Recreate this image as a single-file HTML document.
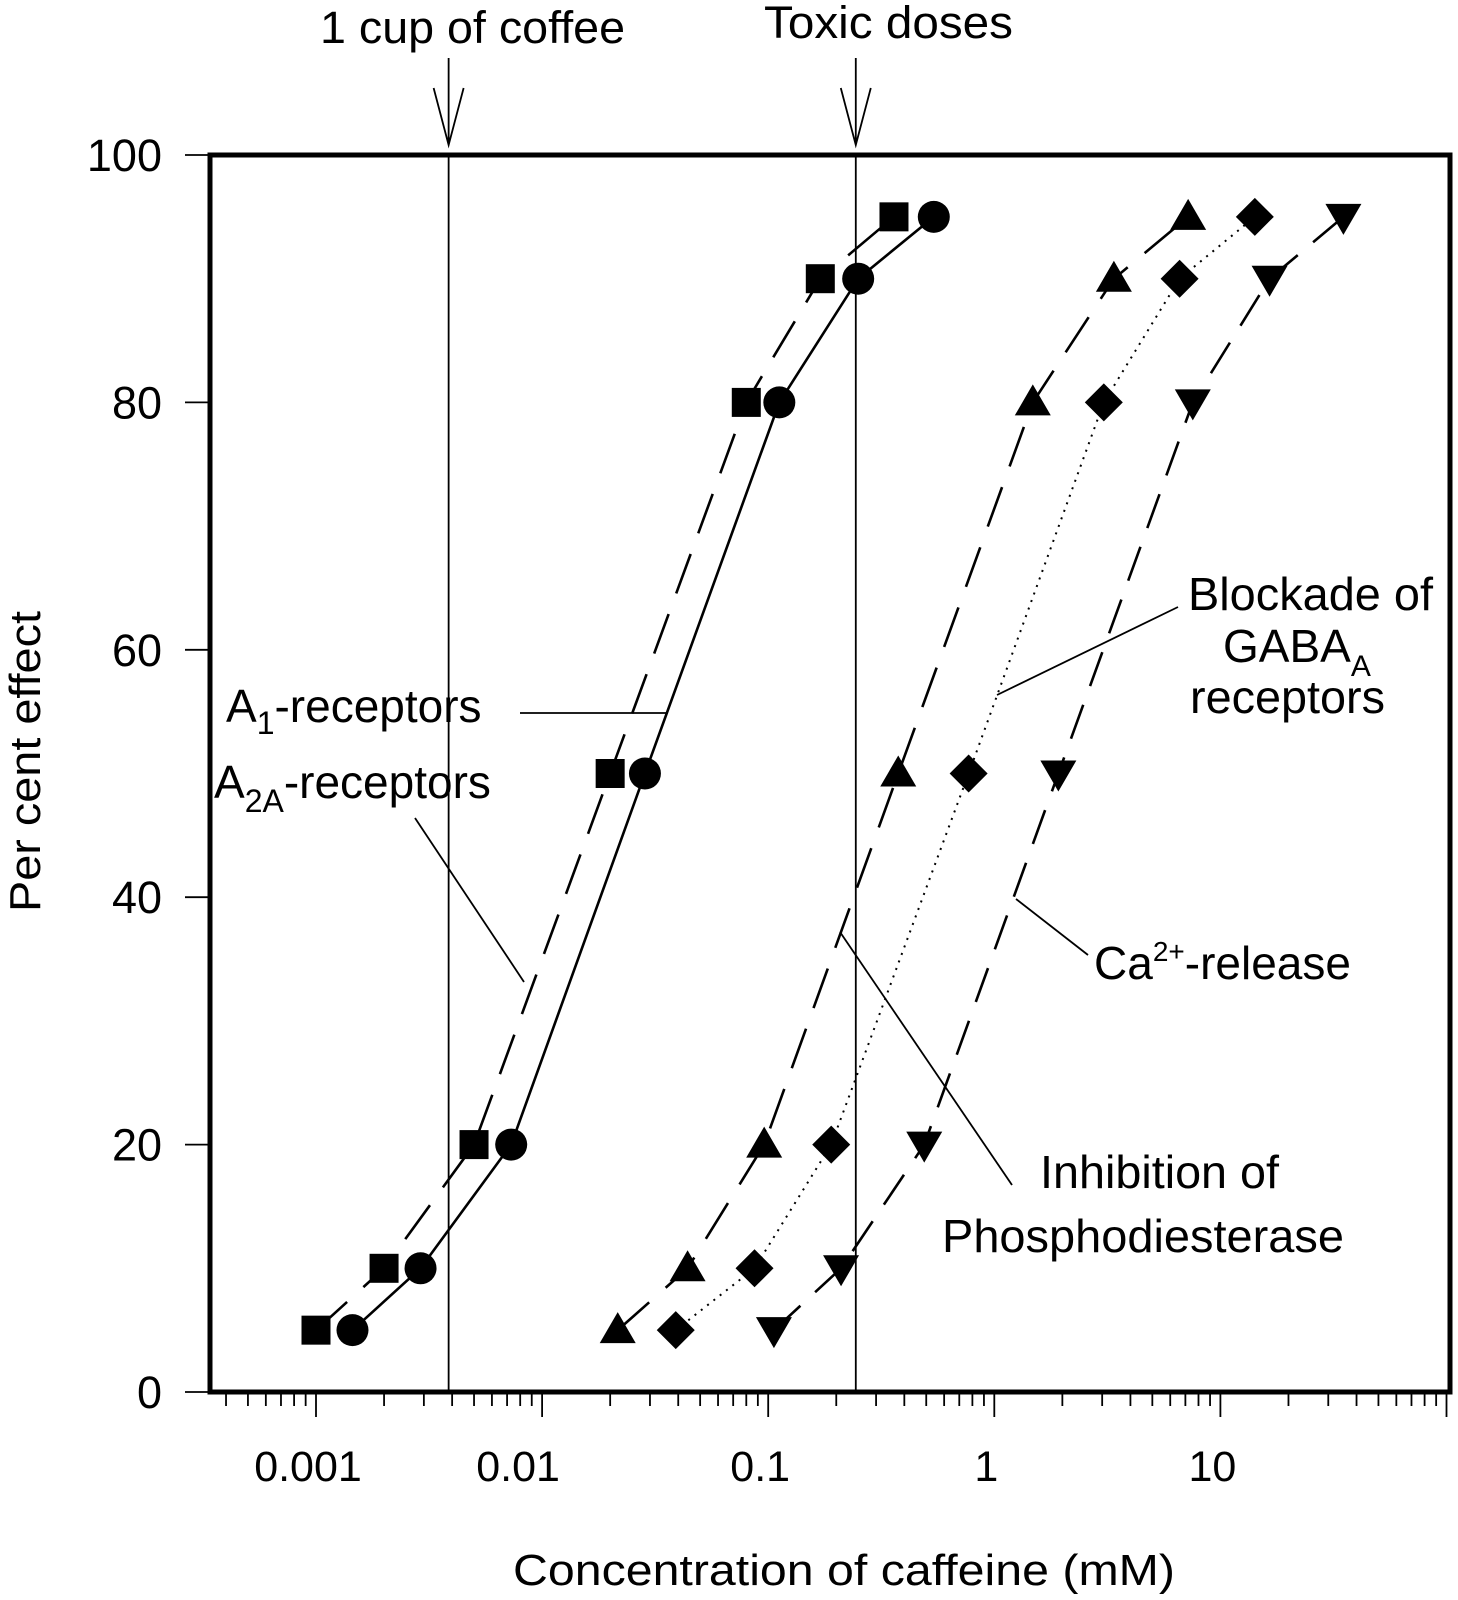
<!DOCTYPE html>
<html><head><meta charset="utf-8"><style>
html,body{margin:0;padding:0;background:#fff}
svg text{font-family:"Liberation Sans",sans-serif;fill:#000}
</style></head><body>
<svg id="chart" width="1458" height="1600" viewBox="0 0 1458 1600" xmlns="http://www.w3.org/2000/svg" style="position:absolute;left:0;top:0">
<g id="layer"></g>
</svg>
<script>
const yTicks=[0,20,40,60,80,100];
const xTickVals=[0.001,0.01,0.1,1,10];
const xTickLabels=["0.001","0.01","0.1","1","10"];
const pctLevels=[5,10,20,50,80,90,95];
const a1Conc=[0.001,0.002,0.005,0.02,0.08,0.17,0.36];
const a2aConc=[0.00145,0.0029,0.0073,0.0285,0.112,0.25,0.54];
const pdeConc=[0.0216,0.044,0.096,0.376,1.48,3.38,7.2];
const gabaConc=[0.039,0.087,0.19,0.77,3.05,6.6,14.2];
const caConc=[0.106,0.21,0.49,1.92,7.55,16.5,35];
const refLines=[0.00386,0.244];
const refLabels=["1 cup of coffee","Toxic doses"];

const L=210,R=1450,T=155,B=1392;
const DEC=226.1;
function sx(v){return 316+(Math.log10(v)+3)*DEC;}
function sy(v){return B-(v/100)*(B-T);}
const NS="http://www.w3.org/2000/svg";
const g=document.getElementById('layer');
function mk(tag,attrs,parent){const e=document.createElementNS(NS,tag);for(const k in attrs)e.setAttribute(k,attrs[k]);(parent||g).appendChild(e);return e;}

const refText=[{x:320,y:43,w:305},{x:764,y:38,w:249}];
refLines.forEach((v,i)=>{
  const x=sx(v);
  let l=mk('line',{x1:x,y1:T,x2:x,y2:B,stroke:'#000','stroke-width':1.8});
  
  
  let a=mk('path',{d:`M${x},58 L${x},145 M${x-15},88 L${x},145 L${x+15},88`,fill:'none',stroke:'#000','stroke-width':1.8});
  
  
  let t=mk('text',{x:refText[i].x,y:refText[i].y,'font-size':45,textLength:refText[i].w,lengthAdjust:'spacingAndGlyphs'});
  t.textContent=refLabels[i];
  
  
});

const series=[
 {name:'a1-receptors',conc:a1Conc,dash:'42 22',marker:'square'},
 {name:'a2a-receptors',conc:a2aConc,dash:'',marker:'circle'},
 {name:'phosphodiesterase',conc:pdeConc,dash:'42 22',marker:'triangle'},
 {name:'gaba-a-blockade',conc:gabaConc,dash:'2 6',marker:'diamond'},
 {name:'ca-release',conc:caConc,dash:'36 20',marker:'down-triangle'}
];
series.forEach(s=>{
  const pts=s.conc.map((c,i)=>[sx(c),sy(pctLevels[i])]);
  let p=mk('path',{d:'M'+pts.map(p=>p.join(',')).join(' L'),fill:'none',stroke:'#000','stroke-width':s.dash.startsWith('2 ')?2:2.6,'stroke-dasharray':s.dash});
  
  
  pts.forEach(([x,y])=>{
    let m;
    if(s.marker=='square')m=mk('rect',{x:x-14.5,y:y-14.5,width:29,height:29,fill:'#000'});
    else if(s.marker=='circle')m=mk('circle',{cx:x,cy:y,r:16,fill:'#000'});
    else if(s.marker=='triangle')m=mk('polygon',{points:`${x},${y-18} ${x-18},${y+13} ${x+18},${y+13}`,fill:'#000'});
    else if(s.marker=='down-triangle')m=mk('polygon',{points:`${x},${y+18} ${x-18},${y-13} ${x+18},${y-13}`,fill:'#000'});
    else m=mk('polygon',{points:`${x},${y-19} ${x+19},${y} ${x},${y+19} ${x-19},${y}`,fill:'#000'});
    
    
  });
});

let f=mk('rect',{x:L,y:T,width:R-L,height:B-T,fill:'none',stroke:'#000','stroke-width':5});



yTicks.forEach(v=>{
  const y=sy(v);
  let l=mk('line',{x1:185,y1:y,x2:L,y2:y,stroke:'#000','stroke-width':1.8});
  
  
  let t=mk('text',{x:162,y:y+16,'font-size':45,'text-anchor':'end'});
  t.textContent=String(v);
  
  
});
for(let e=-4;e<=2;e++){
  for(let k=1;k<=9;k++){
    const v=k*Math.pow(10,e);
    const x=sx(v);
    if(x<L+5||x>R-2)continue;
    let l=mk('line',{x1:x,y1:B,x2:x,y2:k==1?1417:1406,stroke:'#000','stroke-width':1.8});
    
    
  }
}
xTickVals.forEach((v,i)=>{
  let t=mk('text',{x:sx(v)-(i==1?24:8),y:1481,'font-size':43,'text-anchor':'middle'});
  t.textContent=xTickLabels[i];
  
  
});
</script>
<svg style="position:absolute;left:0;top:0" width="1458" height="1600">
<text x="513" y="1585" font-size="44" textLength="662" lengthAdjust="spacingAndGlyphs">Concentration of caffeine (mM)</text>
<text transform="translate(40,912) rotate(-90)" font-size="44" textLength="301" lengthAdjust="spacingAndGlyphs">Per cent effect</text>
<text x="226" y="722" font-size="46">A<tspan font-size="32" dy="12">1</tspan><tspan dy="-12">-receptors</tspan></text>
<line x1="520" y1="713" x2="668" y2="713" stroke="#000" stroke-width="1.8"/>
<text x="214" y="798" font-size="46">A<tspan font-size="32" dy="14">2A</tspan><tspan dy="-14">-receptors</tspan></text>
<line x1="415" y1="818" x2="524" y2="982" stroke="#000" stroke-width="1.8"/>
<text x="1188" y="610" font-size="46" textLength="245" lengthAdjust="spacingAndGlyphs">Blockade of</text>
<text x="1223" y="662" font-size="46">GABA<tspan font-size="30" dy="14">A</tspan></text>
<text x="1190" y="713" font-size="46" textLength="195" lengthAdjust="spacingAndGlyphs">receptors</text>
<line x1="1178" y1="607" x2="997" y2="695" stroke="#000" stroke-width="1.8"/>
<text x="1094" y="979" font-size="46">Ca<tspan font-size="28" dy="-18">2+</tspan><tspan dy="18">-release</tspan></text>
<line x1="1088" y1="955" x2="1016" y2="899" stroke="#000" stroke-width="1.8"/>
<text x="1040" y="1188" font-size="46" textLength="239" lengthAdjust="spacingAndGlyphs">Inhibition of</text>
<text x="942" y="1252" font-size="46" textLength="402" lengthAdjust="spacingAndGlyphs">Phosphodiesterase</text>
<line x1="840" y1="932" x2="1012" y2="1185" stroke="#000" stroke-width="1.8"/>
</svg>
</body></html>
